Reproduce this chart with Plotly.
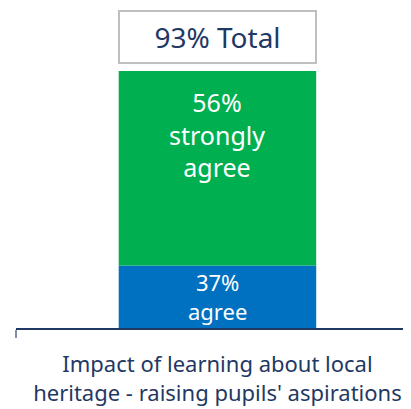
import plotly.graph_objects as go

category = ["Impact of learning about local<br>heritage - raising pupils' aspirations"]
agree = [37]
strongly_agree = [56]
agree_labels = ["37%<br>agree"]
strongly_labels = ["56%<br>strongly<br>agree"]

axis_min = 19
total = agree[0] + strongly_agree[0]
font = "Noto Sans"
navy = "#1F3864"

fig = go.Figure()
fig.add_trace(go.Bar(
    x=[0], y=[agree[0] - axis_min], base=[axis_min],
    width=0.5,
    marker=dict(color="#0070C0", line=dict(width=0)),
    hoverinfo="skip",
))
fig.add_trace(go.Bar(
    x=[0], y=strongly_agree, base=[agree[0]],
    width=0.5,
    marker=dict(color="#00B050", line=dict(width=0)),
    hoverinfo="skip",
))

# segment labels
fig.add_annotation(
    x=0, y=(axis_min + agree[0]) / 2, text=agree_labels[0],
    showarrow=False, font=dict(family=font, size=22, color="white"),
)
fig.add_annotation(
    x=0, y=total, yanchor="top", yshift=-12, text=strongly_labels[0],
    showarrow=False, font=dict(family=font, size=25, color="white"),
)

fig.add_annotation(
    x=0, y=total, yanchor="bottom", yshift=7,
    text=f"{total}% Total",
    showarrow=False,
    font=dict(family=font, size=28, color=navy),
    bordercolor="#BFBFBF", borderwidth=2,
    bgcolor="white",
    width=193, height=48,
)

# page body has an 8px margin, so the figure is sized to fit the window
fig.update_layout(
    width=403, height=401,
    margin=dict(l=8, r=0, t=4, b=81),
    barmode="overlay",
    showlegend=False,
    plot_bgcolor="white",
    paper_bgcolor="white",
    xaxis=dict(
        range=[-0.51, 0.49],
        tickvals=[0],
        ticktext=category,
        ticks="",
        automargin=False,
        ticklabelstandoff=16,
        tickfont=dict(family=font, size=22, color=navy),
        showline=True, linecolor=navy, linewidth=1.5,
        showgrid=False, zeroline=False,
        minor=dict(tickvals=[-0.51], ticks="outside", ticklen=8, tickcolor="#7F8FA9", tickwidth=2),
    ),
    yaxis=dict(range=[axis_min, 110], visible=False),
)

fig.write_html("out.html")
